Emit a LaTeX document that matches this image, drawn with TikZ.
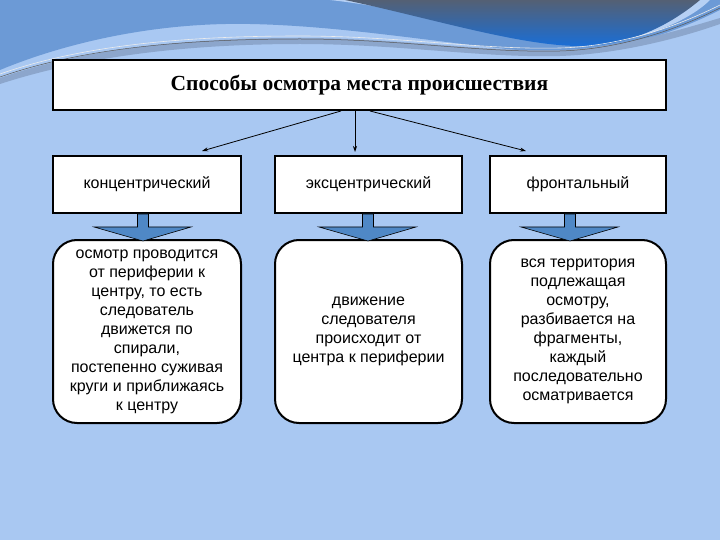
\documentclass[tikz,border=0pt]{standalone}
\usepackage{fontspec}
\setmainfont{Liberation Sans}
\newfontfamily\titlefont{Liberation Serif}
\usetikzlibrary{arrows.meta,calc}
\definecolor{bgblue}{RGB}{169,200,242}
\definecolor{midblue}{RGB}{108,154,214}
\definecolor{bandgray}{RGB}{140,166,204}
\definecolor{darktop}{RGB}{84,96,116}
\definecolor{darkblue}{RGB}{26,110,214}
\definecolor{arrowfill}{RGB}{79,136,198}
\tikzset{
  box/.style={draw=black,line width=2pt,fill=white,inner sep=0pt},
  topbox/.style={box,minimum width=613pt,minimum height=50pt,font=\titlefont\bfseries\fontsize{21.5}{24}\selectfont},
  midbox/.style={box,minimum height=57pt,font=\fontsize{16}{19}\selectfont},
  lowbox/.style={box,rounded corners=24pt,minimum height=183pt,align=center,font=\fontsize{16}{19}\selectfont},
  conn/.style={-{Stealth[length=6pt,width=4pt]},line width=0.8pt},
  blockarrow/.style={draw=black,line width=0.6pt,fill=arrowfill}
}
\begin{document}
\begin{tikzpicture}[x=1pt,y=-1pt]
\useasboundingbox (0,0) rectangle (720,540);
\fill[bgblue] (0,0) rectangle (720,540);
% top decorative waves
\fill[midblue] (0,0) -- (720,0) -- (720,10) .. controls (660,40) and (600,55) .. (540,52)
  .. controls (450,45) and (350,26) .. (250,24) .. controls (150,22) and (60,45) .. (0,70) -- cycle;
\fill[bandgray] (0,78) .. controls (80,50) and (180,38) .. (300,38) .. controls (400,38) and (480,52) .. (560,50)
  .. controls (620,48) and (680,30) .. (720,18) -- (720,24) .. controls (680,38) and (620,54) .. (560,56)
  .. controls (480,58) and (400,44) .. (300,44) .. controls (180,44) and (80,58) .. (0,84) -- cycle;
\fill[bgblue!85!white] (330,0) .. controls (420,10) and (520,40) .. (580,44) .. controls (640,44) and (690,20) .. (710,0) -- cycle;
\shade[top color=darktop,bottom color=darkblue] (345,0) .. controls (430,18) and (520,46) .. (580,46)
  .. controls (630,46) and (670,25) .. (700,0) -- cycle;
\draw[white!85!gray,line width=0.6pt] (0,74) .. controls (80,46) and (180,36) .. (300,36) .. controls (400,36) and (480,50) .. (560,48) .. controls (630,46) and (690,20) .. (720,5);
\draw[gray!70!black,line width=0.5pt] (0,77) .. controls (80,49) and (180,39) .. (300,39) .. controls (400,39) and (480,53) .. (560,51) .. controls (630,49) and (690,23) .. (720,8);

% boxes
\node[topbox] (title) at (359.5,85) {Способы осмотра места происшествия};
\node[midbox,minimum width=188pt] (conc) at (147,184.5) {концентрический};
\node[midbox,minimum width=187pt] (ecc) at (368.5,184.5) {эксцентрический};
\node[midbox,minimum width=176pt] (front) at (578,184.5) {фронтальный};
\node[lowbox,minimum width=188pt] (concd) at (147,331.5) {осмотр проводится\\от периферии к\\центру, то есть\\следователь\\движется по\\спирали,\\постепенно суживая\\круги и приближаясь\\к центру};
\node[lowbox,minimum width=187pt] (eccd) at (368.5,331.5) {движение\\следователя\\происходит от\\центра к периферии};
\node[lowbox,minimum width=176pt] (frontd) at (578,331.5) {вся территория\\подлежащая\\осмотру,\\разбивается на\\фрагменты,\\каждый\\последовательно\\осматривается};

% connectors
\coordinate (s1) at (341,111);
\coordinate (s2) at (355,111);
\coordinate (s3) at (370,111);
\coordinate (e1) at (202,151);
\coordinate (e2) at (355,152);
\coordinate (e3) at (526,151);
\draw[conn] (s1) -- (e1);
\draw[conn] (s2) -- (e2);
\draw[conn] (s3) -- (e3);

% block arrows
\foreach \cx/\n in {143/conc,368/ecc,570/front}{
  \draw[blockarrow] (\cx-5.5,214) -- (\cx+5.5,214) -- (\cx+5.5,227) -- (\cx+48,227)
    -- (\cx,241) -- (\cx-49,227) -- (\cx-5.5,227) -- cycle;
}
\end{tikzpicture}
\end{document}
